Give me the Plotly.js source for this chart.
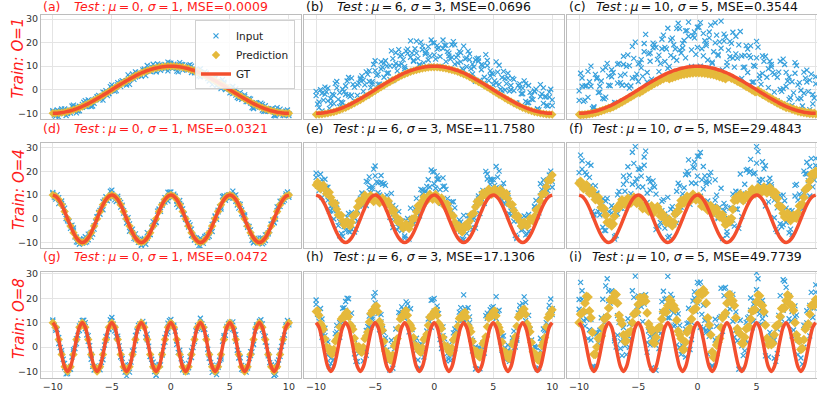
<!DOCTYPE html>
<html><head><meta charset="utf-8">
<script src="https://cdn.plot.ly/plotly-3.0.1.min.js"></script>
<style>html,body{margin:0;padding:0;background:#fff;} #chart{width:817px;height:396px;}</style>
</head><body><div id="chart"></div>
<script>
// shared x positions of the sampled points
const xA = [-10,-9.75,-9.5,-9.25,-9,-8.75,-8.5,-8.25,-8,-7.75,-7.5,-7.25,-7,-6.75,-6.5,-6.25,-6,-5.75,-5.5,-5.25,-5,-4.75,-4.5,-4.25,-4,-3.75,-3.5,-3.25,-3,-2.75,-2.5,-2.25,-2,-1.75,-1.5,-1.25,-1,-0.75,-0.5,-0.25,0,0.25,0.5,0.75,1,1.25,1.5,1.75,2,2.25,2.5,2.75,3,3.25,3.5,3.75,4,4.25,4.5,4.75,5,5.25,5.5,5.75,6,6.25,6.5,6.75,7,7.25,7.5,7.75,8,8.25,8.5,8.75,9,9.25,9.5,9.75,10];
const xB = [-9.875,-9.625,-9.375,-9.125,-8.875,-8.625,-8.375,-8.125,-7.875,-7.625,-7.375,-7.125,-6.875,-6.625,-6.375,-6.125,-5.875,-5.625,-5.375,-5.125,-4.875,-4.625,-4.375,-4.125,-3.875,-3.625,-3.375,-3.125,-2.875,-2.625,-2.375,-2.125,-1.875,-1.625,-1.375,-1.125,-0.875,-0.625,-0.375,-0.125,0.125,0.375,0.625,0.875,1.125,1.375,1.625,1.875,2.125,2.375,2.625,2.875,3.125,3.375,3.625,3.875,4.125,4.375,4.625,4.875,5.125,5.375,5.625,5.875,6.125,6.375,6.625,6.875,7.125,7.375,7.625,7.875,8.125,8.375,8.625,8.875,9.125,9.375,9.625,9.875];

// ground truth curves (on xA)
const gtO1 = [-10,-10,-9.9,-9.7,-9.5,-9.2,-8.9,-8.5,-8.1,-7.6,-7.1,-6.5,-5.9,-5.2,-4.5,-3.8,-3.1,-2.3,-1.6,-0.8,0,0.8,1.6,2.3,3.1,3.8,4.5,5.2,5.9,6.5,7.1,7.6,8.1,8.5,8.9,9.2,9.5,9.7,9.9,10,10,10,9.9,9.7,9.5,9.2,8.9,8.5,8.1,7.6,7.1,6.5,5.9,5.2,4.5,3.8,3.1,2.3,1.6,0.8,0,-0.8,-1.6,-2.3,-3.1,-3.8,-4.5,-5.2,-5.9,-6.5,-7.1,-7.6,-8.1,-8.5,-8.9,-9.2,-9.5,-9.7,-9.9,-10,-10];
const gtO4 = [10,9.5,8.1,5.9,3.1,0,-3.1,-5.9,-8.1,-9.5,-10,-9.5,-8.1,-5.9,-3.1,0,3.1,5.9,8.1,9.5,10,9.5,8.1,5.9,3.1,0,-3.1,-5.9,-8.1,-9.5,-10,-9.5,-8.1,-5.9,-3.1,0,3.1,5.9,8.1,9.5,10,9.5,8.1,5.9,3.1,0,-3.1,-5.9,-8.1,-9.5,-10,-9.5,-8.1,-5.9,-3.1,0,3.1,5.9,8.1,9.5,10,9.5,8.1,5.9,3.1,0,-3.1,-5.9,-8.1,-9.5,-10,-9.5,-8.1,-5.9,-3.1,0,3.1,5.9,8.1,9.5,10];
const gtO8 = [10,8.1,3.1,-3.1,-8.1,-10,-8.1,-3.1,3.1,8.1,10,8.1,3.1,-3.1,-8.1,-10,-8.1,-3.1,3.1,8.1,10,8.1,3.1,-3.1,-8.1,-10,-8.1,-3.1,3.1,8.1,10,8.1,3.1,-3.1,-8.1,-10,-8.1,-3.1,3.1,8.1,10,8.1,3.1,-3.1,-8.1,-10,-8.1,-3.1,3.1,8.1,10,8.1,3.1,-3.1,-8.1,-10,-8.1,-3.1,3.1,8.1,10,8.1,3.1,-3.1,-8.1,-10,-8.1,-3.1,3.1,8.1,10,8.1,3.1,-3.1,-8.1,-10,-8.1,-3.1,3.1,8.1,10];

// (a)
const inA_a = [-9.5,-11.2,-9.1,-8.1,-9.9,-10.1,-8.7,-7.4,-9.8,-7.0,-7.4,-4.6,-6.7,-5.1,-5.8,-2.9,-2.7,-4.4,-0.4,-1.4,0.7,0.7,3.0,1.3,3.4,2.0,5.4,5.2,7.6,6.0,6.0,8.2,10.3,7.8,9.1,7.7,10.5,9.5,10.7,8.0,11.3,10.4,9.3,11.5,8.3,9.3,8.5,10.0,7.2,8.3,5.5,6.8,7.0,5.1,2.2,4.6,3.6,1.3,3.2,0.5,0.2,-1.6,0.4,-3.7,-2.5,-2.9,-5.0,-4.0,-7.8,-6.1,-7.3,-6.2,-9.2,-8.5,-8.2,-10.8,-7.6,-10.4,-9.6,-9.0,-10.9];
const inB_a = [-10.7,-8.6,-10.0,-8.7,-10.9,-8.7,-6.9,-8.9,-9.0,-7.2,-5.3,-7.1,-5.0,-6.9,-3.9,-2.4,-3.1,-1.2,-2.5,1.3,0.3,-0.4,2.5,3.9,2.7,6.3,4.6,4.4,6.9,6.8,8.4,6.0,8.7,9.6,8.5,11.0,8.2,10.0,9.4,11.3,9.0,10.5,7.6,10.7,9.7,8.4,10.6,8.1,8.7,5.9,6.9,7.6,4.7,4.5,5.2,1.7,3.2,4.3,0.1,0.6,-1.0,-0.3,-3.3,-1.2,-3.5,-5.0,-3.7,-7.6,-5.5,-7.1,-5.7,-9.1,-7.9,-9.2,-8.0,-11.1,-9.0,-9.5,-10.9,-8.6];
const inC_a = [-8.9,-10.4,-11.6,-9.1,-8.1,-9.4,-9.9,-6.5,-7.8,-8.9,-6.2,-7.1,-4.3,-7.1,-4.3,-3.1,-4.3,-1.0,-1.9,-1.7,2.1,-0.7,2.0,3.3,2.4,3.9,2.3,6.7,5.4,7.3,5.7,8.8,8.0,7.7,10.8,7.6,10.0,9.7,8.8,11.7,9.6,10.9,7.9,10.3,10.6,8.9,10.3,7.3,8.3,7.0,8.9,5.6,6.2,3.7,5.2,5.0,2.9,0.5,2.5,1.2,-1.3,1.4,-2.3,-1.8,-4.1,-2.2,-4.4,-5.6,-8.0,-5.5,-6.5,-8.7,-6.8,-9.0,-8.1,-10.9,-9.3,-8.2,-10.8,-9.7,-10.1];
const pred_a = [-10,-10,-9.9,-9.7,-9.5,-9.2,-8.9,-8.5,-8.1,-7.6,-7.1,-6.5,-5.9,-5.2,-4.5,-3.8,-3.1,-2.3,-1.6,-0.8,0,0.8,1.6,2.3,3.1,3.8,4.5,5.2,5.9,6.5,7.1,7.6,8.1,8.5,8.9,9.2,9.5,9.7,9.9,10,10,10,9.9,9.7,9.5,9.2,8.9,8.5,8.1,7.6,7.1,6.5,5.9,5.2,4.5,3.8,3.1,2.3,1.6,0.8,0,-0.8,-1.6,-2.3,-3.1,-3.8,-4.5,-5.2,-5.9,-6.5,-7.1,-7.6,-8.1,-8.5,-8.9,-9.2,-9.5,-9.7,-9.9,-10,-10];
// (b)
const inA_b = [-2.5,-7.6,-1.5,1.1,-4.7,-5.9,-2.3,0.8,-7.2,0.2,-2.0,5.2,-2.3,1.1,-2.4,4.9,4.1,-2.6,8.0,3.4,8.1,6.5,11.8,5.3,10.0,4.4,13.2,11.2,17.0,11.0,9.8,15.4,20.7,12.4,15.5,10.7,18.5,15.1,18.3,10.0,19.9,17.2,14.1,21.1,11.9,15.5,13.7,19.0,11.4,15.7,8.3,13.4,15.2,10.9,3.6,12.2,10.6,5.3,12.4,5.9,6.6,2.8,10.4,-0.5,4.7,4.9,0.0,4.4,-5.6,0.7,-1.7,2.6,-5.4,-2.5,-0.8,-8.0,2.2,-5.8,-3.0,-1.0,-6.7];
const inB_b = [-6.1,0.0,-4.4,-0.9,-7.9,-1.9,2.7,-4.1,-5.2,-0.8,3.7,-2.9,2.3,-4.9,2.8,5.9,2.1,6.5,0.9,10.7,6.1,2.4,9.5,12.3,7.1,16.5,10.0,8.0,14.3,12.8,16.4,8.2,15.5,17.4,13.3,20.2,11.4,16.4,14.4,19.9,13.0,17.7,9.2,18.9,16.3,13.0,20.4,13.7,16.3,8.9,13.1,16.4,8.9,9.7,13.2,4.1,10.2,14.9,3.9,7.0,3.8,7.5,0.2,7.8,2.6,-0.6,4.8,-5.6,1.9,-1.7,3.8,-5.5,-1.1,-4.2,0.3,-8.5,-1.8,-2.9,-6.9,0.2];
const inC_b = [-0.7,-5.2,-9.0,-1.9,0.7,-3.8,-5.9,3.5,-1.2,-5.5,1.6,-2.3,4.9,-4.9,2.1,4.3,-0.7,7.6,3.5,2.5,12.3,2.3,8.8,11.3,7.0,10.1,3.9,15.7,10.4,14.9,8.9,17.2,13.8,12.1,20.6,10.4,17.0,15.7,12.6,21.1,14.8,18.7,9.9,17.5,18.8,14.3,19.1,10.9,14.7,11.8,18.5,9.8,12.8,6.7,12.6,13.4,8.5,2.9,10.3,8.0,2.1,11.8,2.3,5.2,-0.1,7.0,1.8,-0.4,-6.2,2.5,0.7,-4.9,1.8,-4.0,-0.5,-8.3,-2.9,0.8,-6.6,-3.1,-4.3];
const pred_b = [-10.5,-10.5,-10.4,-10.2,-10.0,-9.7,-9.4,-9.0,-8.6,-8.1,-7.6,-7.0,-6.4,-5.7,-5.0,-4.3,-3.6,-2.8,-2.1,-1.3,-0.5,0.3,1.1,1.8,2.6,3.3,4.0,4.7,5.4,6.0,6.6,7.1,7.6,8.0,8.4,8.7,9.0,9.2,9.4,9.5,9.5,9.5,9.4,9.2,9.0,8.7,8.4,8.0,7.6,7.1,6.6,6.0,5.4,4.7,4.0,3.3,2.6,1.8,1.1,0.3,-0.5,-1.3,-2.1,-2.8,-3.6,-4.3,-5.0,-5.7,-6.4,-7.0,-7.6,-8.1,-8.6,-9.0,-9.4,-9.7,-10.0,-10.2,-10.4,-10.5,-10.5];
// (c)
const inA_c = [-4.5,5.0,1.6,-3.2,10.0,-7.2,4.6,1.5,-3.6,9.4,1.9,5.5,-5.4,10.8,3.0,10.7,9.9,0.7,18.4,5.2,11.0,9.3,19.6,7.3,15.6,17.8,3.0,14.7,21.4,18.0,9.1,21.1,13.6,26.0,16.9,19.7,13.5,28.7,16.9,22.0,26.5,10.0,23.9,18.7,24.5,11.7,19.9,15.0,29.1,20.6,11.6,14.0,24.4,15.2,19.0,4.8,14.6,7.3,18.6,10.3,13.5,6.2,14.4,-2.8,8.9,10.7,-1.0,5.3,0.1,13.0,1.4,5.4,-6.6,7.0,2.1,-3.7,-1.5,8.3,4.1,-6.0,2.5];
const inB_c = [7.0,-4.9,1.7,3.4,-7.9,6.5,-1.2,3.7,-3.9,11.2,1.7,7.3,-5.6,11.2,1.9,6.6,14.8,1.6,13.3,6.6,11.4,5.7,23.5,15.2,4.5,19.2,12.9,11.1,23.2,17.3,9.9,21.9,17.3,28.2,15.6,20.9,25.1,8.8,22.9,15.0,26.5,17.4,20.8,12.6,27.4,16.1,23.2,20.3,8.4,22.4,16.8,19.7,9.6,13.4,24.7,9.5,18.7,14.5,3.2,9.9,18.1,2.3,12.1,5.3,12.1,7.4,-4.9,7.5,-0.7,10.7,3.7,-3.4,-1.3,10.3,3.0,-6.9,4.9,-0.8,6.6,-3.5];
const inC_c = [-0.5,1.5,-4.4,7.8,1.5,-7.7,5.1,-1.0,8.4,-3.1,5.9,8.5,-6.4,2.8,6.0,14.2,1.9,10.2,4.9,20.2,3.5,12.8,16.1,3.3,12.1,19.8,18.0,7.7,17.4,12.0,26.1,14.6,19.1,12.5,25.9,17.7,25.0,22.7,9.9,24.5,18.0,28.5,14.4,19.7,22.0,11.2,28.4,14.5,17.6,23.6,10.1,20.5,13.4,22.7,3.5,14.3,9.6,17.3,13.6,3.3,20.5,4.7,6.9,14.2,0.9,9.7,6.5,-4.7,12.1,0.5,7.4,-4.1,3.4,11.5,-3.9,-0.2,7.5,3.3,-8.4,-2.0,5.5];
const pred_c = [-10.5,-10.5,-10.4,-10.2,-10.0,-9.7,-9.4,-9.0,-8.6,-8.1,-7.6,-7.3,-6.7,-6.0,-5.3,-4.6,-3.9,-3.1,-2.4,-1.6,-0.8,-0.2,0.6,1.3,2.1,2.8,3.5,4.2,4.9,5.5,6.1,6.1,6.6,7.0,7.4,7.7,8.0,8.2,8.4,8.5,8.5,8.5,8.4,8.2,8.0,7.7,7.4,7.0,6.6,6.1,5.6,5.5,4.9,4.2,3.5,2.8,2.1,1.3,0.6,-0.2,-1.0,-1.4,-2.2,-2.9,-3.7,-4.4,-5.1,-5.8,-6.5,-7.1,-7.7,-8.0,-8.5,-8.9,-9.3,-9.6,-9.9,-10.1,-10.3,-10.4,-10.4];
const predB_c = [-10.8,-10.7,-10.6,-10.4,-10.2,-9.9,-9.5,-9.1,-8.7,-8.2,-8.0,-7.4,-6.8,-6.1,-5.4,-4.7,-3.9,-3.2,-2.4,-1.6,-1.4,-0.6,0.2,0.9,1.7,2.4,3.1,3.8,4.4,5.0,4.4,4.9,5.3,5.7,6.1,6.4,6.6,6.8,6.9,7.0,7.0,6.9,6.8,6.6,6.4,6.1,5.7,5.3,4.9,4.4,5.3,4.7,4.1,3.4,2.7,2.0,1.2,0.5,-0.3,-1.1,-0.1,-0.9,-1.7,-2.4,-3.2,-3.9,-4.6,-5.3,-5.9,-6.5,-7.1,-7.6,-8.0,-8.4,-8.8,-9.1,-9.3,-9.5,-9.6,-9.7];
// (d)
const inA_d = [10.5,8.3,8.9,7.5,2.7,-0.9,-2.9,-4.8,-9.8,-8.9,-10.3,-7.6,-8.9,-5.8,-4.4,0.9,3.5,3.8,9.3,8.9,10.7,9.4,9.5,4.9,3.4,-1.8,-2.2,-5.9,-6.4,-10.0,-11.1,-8.9,-5.9,-6.6,-2.9,-1.5,4.1,5.7,8.9,7.5,11.3,9.9,7.5,7.7,1.9,0.1,-3.5,-4.4,-9.0,-8.8,-11.6,-9.2,-7.0,-6.0,-5.4,0.8,3.6,4.9,9.7,9.2,10.2,8.7,10.1,4.5,3.7,0.9,-3.6,-4.7,-10.0,-9.1,-10.2,-8.1,-9.2,-5.9,-2.4,-1.6,5.0,5.2,8.4,10.5,9.1];
const inB_d = [9.2,10.2,6.9,5.4,0.1,-1.2,-2.7,-7.7,-10.0,-9.7,-8.4,-9.8,-6.5,-6.5,-1.3,2.7,4.1,7.9,7.6,11.6,9.8,7.3,7.6,5.7,0.8,0.5,-4.8,-8.3,-8.2,-9.9,-8.9,-10.8,-6.7,-3.6,-2.2,3.2,3.1,7.3,8.4,11.2,8.9,9.5,4.9,5.6,1.9,-2.3,-2.6,-7.3,-8.1,-11.4,-9.8,-7.5,-8.0,-4.9,-0.6,-0.2,5.0,9.4,7.8,10.1,9.3,9.8,5.8,6.0,1.6,-2.4,-3.3,-9.1,-8.2,-10.2,-8.2,-10.1,-6.7,-5.0,-0.5,-0.1,5.1,7.4,7.9,11.3];
const inC_d = [11.1,9.1,6.4,6.5,4.5,-0.2,-4.1,-3.9,-7.8,-10.8,-9.1,-10.1,-6.5,-7.8,-2.9,0.7,1.9,7.2,7.8,8.6,12.1,8.0,8.5,6.9,2.4,0.1,-5.3,-4.4,-8.6,-8.7,-11.4,-8.3,-8.2,-6.7,-1.2,-1.6,3.6,5.9,7.0,11.2,9.6,10.4,6.1,6.5,4.2,-0.3,-1.7,-7.1,-7.9,-10.1,-8.2,-10.4,-7.8,-7.4,-2.4,1.2,2.9,4.1,9.0,9.9,8.7,11.7,7.4,6.4,2.1,1.6,-3.0,-6.3,-10.2,-8.5,-9.4,-10.6,-6.8,-6.4,-2.3,-1.7,3.3,7.4,7.2,9.8,9.9];
const pred_d = [10,9.5,8.1,5.9,3.1,0,-3.1,-5.9,-8.1,-9.5,-10,-9.5,-8.1,-5.9,-3.1,0,3.1,5.9,8.1,9.5,10,9.5,8.1,5.9,3.1,0,-3.1,-5.9,-8.1,-9.5,-10,-9.5,-8.1,-5.9,-3.1,0,3.1,5.9,8.1,9.5,10,9.5,8.1,5.9,3.1,0,-3.1,-5.9,-8.1,-9.5,-10,-9.5,-8.1,-5.9,-3.1,0,3.1,5.9,8.1,9.5,10,9.5,8.1,5.9,3.1,0,-3.1,-5.9,-8.1,-9.5,-10,-9.5,-8.1,-5.9,-3.1,0,3.1,5.9,8.1,9.5,10];
// (e)
const inA_e = [17.5,11.9,16.5,16.7,7.9,3.3,3.5,3.4,-7.2,-1.7,-4.9,2.2,-4.5,0.4,-1.0,8.7,10.3,5.6,17.7,13.7,18.1,15.2,18.3,8.9,10.0,0.6,5.6,0.1,3.0,-5.0,-7.3,-1.7,4.5,-2.0,3.5,1.5,12.1,11.3,16.5,9.5,19.9,16.7,12.3,17.3,5.5,6.3,1.7,4.6,-4.8,-1.4,-8.8,-2.6,1.2,-0.2,-4.0,8.4,10.6,8.9,18.9,14.6,16.6,13.1,20.1,7.7,10.9,8.7,1.4,3.7,-7.8,-2.3,-4.6,0.7,-5.4,0.1,5.0,1.2,14.8,9.8,15.0,18.5,13.3];
const inB_e = [13.8,18.8,12.5,13.2,3.1,5.6,6.9,-2.9,-6.2,-3.3,0.6,-5.6,0.7,-4.5,5.3,10.9,9.3,15.5,11.0,21.0,15.6,10.1,14.6,14.1,5.2,10.7,0.6,-4.7,-0.8,-3.9,-0.9,-8.6,0.1,4.2,2.6,12.4,6.3,13.7,13.4,19.8,12.9,16.7,6.5,13.8,8.5,2.3,7.2,-1.7,-0.5,-8.4,-3.6,1.3,-3.8,0.3,7.4,2.2,12.0,20.0,11.6,16.5,14.1,17.6,9.2,15.0,7.6,2.0,5.1,-7.1,-0.8,-4.8,1.2,-6.5,0.1,0.0,7.7,2.5,12.3,14.0,11.9,20.1];
const inC_e = [19.3,14.3,9.0,13.7,13.3,5.4,-0.1,6.1,-1.2,-7.4,-1.3,-5.3,2.7,-5.6,3.5,8.1,5.5,15.8,13.2,12.8,22.3,11.0,15.3,14.9,7.0,6.3,-3.7,4.6,-3.6,-1.1,-8.2,0.1,-2.4,-2.3,8.6,1.2,10.6,11.9,10.8,20.6,14.8,18.2,8.1,13.7,12.4,5.1,7.1,-3.5,-1.5,-5.3,1.4,-6.2,-1.2,-4.4,5.0,9.6,8.5,6.5,16.8,16.7,12.1,22.1,12.0,13.4,6.1,10.8,3.2,-1.1,-8.4,-0.5,-2.2,-6.8,1.8,-1.4,5.3,0.9,9.7,16.4,11.4,16.4,15.7];
const pred_e = [14.3,14.0,13.5,12.5,11.0,9.0,6.5,4.0,1.5,-1.0,-2.0,-2.5,-1.5,1.5,5.0,7.5,8.5,9.0,8.8,8.5,8.3,8.0,7.8,7.5,7.0,5.5,3.5,1.0,-1.0,-2.5,-3.2,-3.4,-2.5,0.0,3.0,5.5,7.5,8.5,9.0,9.3,9.3,8.8,8.0,7.2,6.0,4.0,1.5,-1.5,-3.5,-4.8,-4.2,-3.4,-1.0,2.0,5.0,7.2,9.0,10.5,11.2,11.5,11.5,11.5,11.3,11.0,10.5,8.5,6.0,3.5,1.0,-1.0,-2.7,-2.5,-1.5,-0.5,1.0,4.0,7.5,10.5,13.5,16.5,18.5];
const predB_e = [15.4,12.6,14.2,10.6,11.2,6.6,6.5,1.6,1.5,-2.7,-1.1,-3.2,1.2,2.1,7.5,6.8,10.0,7.7,9.9,7.2,9.4,6.7,8.9,6.1,7.5,3.3,3.5,-1.2,-0.6,-4.1,-2.1,-4.2,0.0,0.3,5.5,5.3,9.2,7.6,10.4,8.1,10.3,7.2,8.8,5.4,6.2,1.6,1.2,-3.7,-3.0,-5.7,-2.6,-3.4,1.7,2.3,7.3,6.9,11.0,9.7,12.6,10.3,12.7,10.2,12.4,9.6,10.7,6.1,6.0,1.1,1.2,-3.1,-1.4,-3.2,0.2,-1.0,3.7,4.6,10.2,10.8,16.2,16.3];
// (f)
const inA_f = [15.5,24.5,19.6,12.4,22.6,2.0,10.4,4.1,-3.6,7.5,-1.0,2.5,-7.6,10.1,4.4,14.5,16.1,8.9,28.1,15.5,21.0,18.0,26.1,10.9,15.6,14.0,-4.6,3.6,7.4,2.0,-8.0,4.0,-2.6,11.6,4.9,10.5,7.1,24.9,15.1,21.5,26.5,9.5,22.1,14.9,18.1,2.5,7.9,0.6,12.9,3.5,-5.5,-2.0,10.4,4.1,11.4,1.0,14.6,10.9,25.1,19.0,23.5,16.5,24.1,5.4,15.1,14.5,0.4,4.6,-2.1,10.0,-1.5,3.5,-6.6,9.6,7.9,5.5,11.1,23.9,22.1,13.5,22.5];
const inB_f = [26.9,13.9,18.6,17.5,3.1,13.9,3.0,4.9,-4.9,8.6,-1.4,4.6,-7.1,11.5,4.4,11.6,22.0,10.6,23.4,16.9,20.9,13.4,28.6,17.0,2.6,13.4,3.5,-1.6,8.1,0.6,-7.4,5.1,1.9,15.0,4.9,13.1,20.0,6.1,21.9,14.9,26.4,16.4,18.1,7.5,19.6,5.4,10.0,4.9,-8.4,5.1,0.1,4.6,-3.1,4.0,18.9,7.6,20.5,19.6,10.9,19.4,28.4,12.4,21.1,12.5,17.1,9.9,-4.5,5.9,-3.4,7.6,1.1,-4.4,-0.1,14.5,10.4,4.1,19.0,16.1,25.4,16.4];
const inC_f = [19.5,21.0,13.6,23.4,14.1,1.5,10.9,1.6,8.4,-5.0,3.0,5.5,-8.6,2.1,7.4,18.0,8.1,18.4,14.6,30.5,13.5,21.5,22.6,6.9,12.1,16.0,10.4,-3.4,3.4,-4.0,9.0,-2.5,2.9,-1.9,13.9,8.5,18.6,18.9,8.1,24.0,18.0,28.0,12.6,15.9,15.6,2.0,16.4,0.1,1.4,6.5,-7.0,4.5,-0.6,11.6,-4.1,10.5,9.6,20.9,20.1,12.0,30.5,15.0,16.6,22.4,7.1,13.5,7.9,-5.4,9.9,-2.5,4.5,-6.0,3.4,14.1,1.9,9.0,20.1,18.9,9.6,17.5,25.5];
const pred_f = [15,14.2,13.6,12.5,11.5,10,8.5,7.2,4.5,1.5,-2,-3,1,5,6.5,7,7.5,7.5,8,7.8,7.5,6,5,4.5,4.3,4,4,3.7,1,0,-1,-2,-1.5,3,5.5,7.5,8,8.3,8.8,9.3,9,7.5,5.5,5,4.5,4,3.7,2.5,1.5,-0.5,-2,-1.3,4,9,9.3,9,8.8,9,11,11.5,11.8,12,12.2,12.2,12,12,11,8.6,5,2.3,1.5,0.8,0,0.5,2.5,5.8,9,12.9,16,19,20];
const predB_f = [15.8,12.7,14.3,10.8,12.0,8.1,9.1,4.7,4.2,-1.5,-1.3,-2.2,4.2,4.6,8.0,6.1,8.7,6.6,9.1,6.5,8.0,4.3,6.0,3.2,5.4,2.8,5.1,1.2,1.7,-1.7,-0.3,-3.0,2.0,3.1,7.7,6.6,9.4,7.4,10.3,8.0,9.5,5.3,6.5,3.6,5.5,2.7,4.3,0.8,1.7,-2.5,-0.5,0.2,7.7,8.0,10.4,7.7,10.1,8.8,12.5,10.5,13.1,10.9,13.4,10.9,13.2,10.3,11.0,5.6,4.9,0.7,2.4,-0.8,1.5,0.3,5.4,6.2,12.2,13.3,18.7,18.3];
// (g)
const inA_g = [10.5,6.9,3.9,-1.5,-8.5,-10.9,-7.9,-2.0,1.4,8.7,9.7,10.0,2.3,-3.0,-9.4,-9.1,-7.7,-5.2,4.3,7.5,10.7,8.0,4.5,-4.1,-7.8,-11.8,-7.2,-3.1,4.8,7.6,8.9,8.7,5.3,-3.8,-7.9,-11.5,-7.1,-3.3,3.9,6.1,11.3,8.5,2.5,-1.3,-9.3,-9.9,-8.5,-1.6,2.2,8.8,8.4,8.4,4.2,-3.2,-10.4,-9.2,-7.6,-4.1,4.7,7.8,10.2,7.3,5.1,-4.5,-7.5,-9.1,-8.6,-1.9,1.2,8.5,9.8,9.5,2.0,-3.1,-7.4,-11.6,-6.2,-3.8,3.4,9.1,9.1];
const inB_g = [8.8,7.2,-0.2,-5.0,-11.0,-9.1,-4.1,-0.6,4.8,9.7,11.0,5.0,0.6,-7.9,-9.2,-8.4,-6.3,0.8,4.6,11.2,9.4,4.3,0.5,-4.7,-10.3,-7.4,-6.2,-1.2,6.6,9.5,10.5,4.0,0.4,-5.0,-10.1,-7.9,-7.3,0.2,5.4,10.8,8.5,6.5,-2.2,-4.8,-9.2,-10.2,-4.0,-0.2,6.7,8.0,9.6,7.3,-0.9,-6.3,-8.5,-11.3,-5.4,2.3,4.8,9.7,8.9,6.8,-1.3,-4.4,-9.5,-10.3,-4.7,-2.0,6.6,9.2,11.2,4.7,0.4,-6.4,-8.4,-11.2,-5.3,0.3,4.9,10.9];
const inC_g = [11.1,7.7,1.4,-2.5,-6.7,-10.2,-9.1,-1.1,3.4,6.8,10.9,7.5,4.7,-5.0,-7.9,-9.3,-9.3,-1.8,2.8,7.2,12.1,6.6,3.5,-2.1,-8.8,-9.9,-10.3,-1.6,2.6,8.9,8.6,9.3,3.0,-3.9,-6.2,-11.6,-7.6,-3.1,2.0,9.8,9.6,9.0,1.1,-2.5,-7.0,-10.3,-6.7,-4.3,3.3,7.5,11.8,7.2,3.4,-4.6,-7.4,-8.8,-8.3,-4.9,4.0,8.5,8.7,10.3,2.4,-2.6,-9.1,-8.4,-8.0,-3.5,1.0,9.1,10.6,7.0,4.4,-3.6,-7.3,-11.7,-7.9,-1.6,2.2,8.4,9.9];
const pred_g = [10,8.1,3.1,-3.1,-8.1,-10,-8.1,-3.1,3.1,8.1,10,8.1,3.1,-3.1,-8.1,-10,-8.1,-3.1,3.1,8.1,10,8.1,3.1,-3.1,-8.1,-10,-8.1,-3.1,3.1,8.1,10,8.1,3.1,-3.1,-8.1,-10,-8.1,-3.1,3.1,8.1,10,8.1,3.1,-3.1,-8.1,-10,-8.1,-3.1,3.1,8.1,10,8.1,3.1,-3.1,-8.1,-10,-8.1,-3.1,3.1,8.1,10,8.1,3.1,-3.1,-8.1,-10,-8.1,-3.1,3.1,8.1,10,8.1,3.1,-3.1,-8.1,-10,-8.1,-3.1,3.1,8.1,10];
// (h)
const inA_h = [17.5,10.5,11.5,7.7,-3.3,-6.7,-1.5,6.2,4.0,15.9,15.1,19.8,6.7,3.2,-6.0,-1.3,-0.9,-3.4,12.7,12.3,18.1,13.8,13.3,-0.1,-1.2,-9.4,0.6,2.9,14.2,12.6,12.7,15.9,15.7,0.8,-1.5,-8.5,0.9,2.3,11.5,8.1,19.9,15.3,7.3,8.3,-5.7,-3.7,-3.3,7.4,6.4,16.2,11.2,15.0,12.4,2.6,-9.0,-1.6,-0.6,-0.1,13.9,13.2,16.6,11.7,15.1,-1.3,-0.3,-1.3,-3.6,6.5,3.4,15.3,15.4,18.3,5.8,2.9,0.0,-8.8,3.6,0.8,10.0,17.1,13.3];
const inB_h = [13.4,15.8,5.4,2.8,-8.0,-2.3,5.5,4.2,8.6,16.1,20.0,9.2,7.8,-5.9,-2.6,-0.2,-1.1,8.4,8.0,20.6,15.2,7.1,7.5,3.7,-5.9,2.8,-0.8,2.4,14.0,15.5,18.5,6.2,7.2,2.8,-5.3,1.3,-4.1,6.6,10.4,19.4,12.5,13.7,-0.6,3.4,-2.6,-5.6,5.8,5.4,14.3,11.0,15.8,16.1,3.3,-1.1,-0.5,-8.9,1.6,12.9,8.6,16.1,13.7,14.6,2.1,4.6,-3.5,-5.9,3.7,0.0,14.0,14.6,20.6,8.3,7.2,-1.4,-0.2,-8.6,1.9,6.9,8.9,19.7];
const inC_h = [19.3,12.9,4.0,4.7,2.1,-4.6,-5.1,8.9,10.0,10.2,18.7,12.3,13.9,-2.8,-1.5,-1.9,-5.7,6.8,8.2,11.4,22.3,9.6,10.3,5.9,-4.2,-3.7,-8.7,7.4,7.6,16.5,11.8,17.7,8.8,0.5,3.6,-8.8,-0.6,2.9,5.8,19.2,14.8,16.8,3.1,4.7,1.2,-4.9,2.1,-0.7,9.7,12.3,21.4,11.4,10.0,-1.6,0.0,-0.4,-2.7,-2.5,11.8,15.3,12.1,20.7,7.0,4.4,-5.1,0.8,-1.8,1.7,2.8,17.1,17.8,10.8,13.0,1.4,0.3,-9.1,-1.5,7.4,6.4,15.0,15.7];
const pred_h = [14.6,13.0,8.7,3.4,-0.9,-2.5,-0.9,3.2,8.2,12.3,13.9,12.4,8.5,3.6,-0.3,-1.8,-0.1,4.5,10.3,14.9,16.6,14.5,9.1,2.3,-3.1,-5.2,-3.3,1.6,7.8,12.7,14.6,13.0,8.9,3.9,-0.2,-1.8,-0.2,3.9,8.9,13.0,14.6,13.0,8.9,3.9,-0.2,-1.8,-0.3,3.6,8.5,12.4,13.9,12.2,7.8,2.3,-2.1,-3.8,-2.1,2.5,8.3,12.9,14.6,12.8,8.0,2.1,-2.7,-4.5,-2.6,2.3,8.5,13.4,15.3,13.4,8.2,1.9,-3.3,-5.2,-3.3,1.9,8.2,13.4,15.3];
const predB_h = [15.0,9.7,7.3,0.1,-0.5,-2.9,2.4,4.5,11.5,11.9,14.4,9.3,7.3,0.5,0.2,-2.2,3.4,6.2,13.8,14.6,16.8,10.6,6.9,-1.6,-3.0,-5.5,0.4,3.5,11.5,12.5,15.0,9.8,7.6,0.7,0.2,-2.2,3.1,5.2,12.2,12.6,15.0,9.8,7.6,0.7,0.2,-2.3,2.9,4.9,11.7,12.0,14.3,8.8,6.3,-1.1,-1.8,-4.2,1.4,4.2,11.8,12.6,14.9,9.2,6.3,-1.5,-2.4,-4.8,1.1,4.2,12.2,13.2,15.6,9.6,6.3,-1.9,-3.1,-5.5,0.5,3.9,12.0,13.2];
// (i)
const inA_i = [15.5,23.1,14.6,3.4,11.4,-8.0,5.4,6.9,7.6,25.1,19.0,20.1,3.6,12.9,-0.6,4.5,4.9,-0.1,23.1,14.1,21.0,16.6,21.1,1.9,4.4,4.0,-9.6,6.4,18.6,19.6,12.0,21.6,8.6,14.4,-0.1,0.5,-4.1,15.9,10.1,20.1,26.5,8.1,17.1,5.9,6.9,-7.5,2.9,3.4,24.1,21.1,14.5,15.6,21.6,6.9,6.4,-9.0,3.4,1.9,20.1,17.6,23.5,15.1,19.1,-3.6,3.9,4.5,-4.6,7.4,9.1,27.6,18.5,21.1,4.6,12.4,2.9,-4.5,-0.1,14.9,17.1,12.1,22.5];
const inB_i = [26.5,10.9,11.5,7.1,-8.0,6.0,1.6,12.0,9.9,28.0,18.0,19.4,0.0,10.1,-3.5,0.5,11.6,3.5,20.4,16.5,20.5,10.4,21.5,6.6,-8.5,5.5,2.1,5.5,22.9,20.0,12.0,19.9,9.0,13.6,-3.0,2.0,9.6,-1.0,18.9,14.5,26.0,13.4,11.0,-2.9,8.5,-2.5,8.6,12.0,6.4,24.5,19.5,19.4,4.0,2.6,11.0,-3.5,10.1,12.5,7.9,19.0,28.0,9.4,14.0,2.1,6.0,2.0,-5.9,13.0,11.4,27.0,20.5,10.4,7.0,13.1,2.5,-7.0,8.6,9.0,22.4,16.0];
const inC_i = [19.5,19.6,8.6,14.4,2.9,-8.5,5.9,4.4,19.6,12.6,23.0,23.1,2.6,4.9,2.4,8.0,-3.1,9.4,9.6,29.1,13.5,20.1,17.6,-2.1,0.9,6.0,5.4,-0.6,14.6,13.6,29.0,15.1,14.1,0.9,8.9,-1.5,7.4,9.9,3.1,22.6,18.0,26.6,7.6,6.9,4.4,-8.0,11.4,2.9,12.6,24.1,13.0,22.1,10.6,14.4,-9.1,0.5,-1.6,11.9,15.1,10.6,30.5,13.6,11.6,13.4,-4.1,3.5,2.9,-2.6,21.1,15.1,24.5,11.6,14.6,16.9,-3.1,-1.0,8.9,9.9,4.6,16.1,25.5];
const pred_i = [10,14,18,20.5,12,-3,0,4,8,12,16,19.5,22,18,11,5,2.5,6,10,14,17.5,20,20.5,14,8,2,4,8,11.5,14.5,17,19,17,11,5,-1,2,7,11.5,15.5,19,22,23.5,18,9,-2,-3.5,2,8,13,18,21.5,19,12,6,1.6,4,8,11.5,15,18.5,21,17,9,1,1,5,9,12.5,16,19,20.7,17,10,3,-1,3,8.5,13.5,17.5,19.5];
const predB_i = [13.5,14.5,20.8,14.8,6.0,-3.0,3.5,4.5,11.5,12.5,19.3,19.3,21.5,13.0,9.5,2.3,5.8,6.5,13.5,14.3,20.3,18.8,18.8,9.5,6.5,1.5,7.5,8.3,14.5,14.3,19.5,16.5,15.5,6.5,3.5,-1.0,6.0,7.8,15.0,15.8,22.0,21.3,22.3,12.0,5.0,-4.3,0.8,3.5,12.0,14.0,21.3,18.8,17.0,7.5,5.3,1.3,7.5,8.3,14.8,15.3,21.3,17.5,14.5,3.5,2.5,1.5,8.5,9.3,15.8,16.0,21.4,17.4,15.0,5.0,2.5,-0.5,7.3,9.5,17.0,17.0];

// labels
const panelLetters = ['(a)','(b)','(c)','(d)','(e)','(f)','(g)','(h)','(i)'];
const testMu = [0, 6, 10];
const testSigma = [1, 3, 5];
const mseLabels = ['0.0009','0.0696','0.3544','0.0321','11.7580','29.4843','0.0472','17.1306','49.7739'];
const trainOrders = [1, 4, 8];
const seriesNames = ['Input', 'Prediction', 'GT'];
const xTickVals = [-10, -5, 0, 5, 10];
const yTickVals = [-10, 0, 10, 20, 30];

const inputsA = [inA_a, inA_b, inA_c, inA_d, inA_e, inA_f, inA_g, inA_h, inA_i];
const inputsB = [inB_a, inB_b, inB_c, inB_d, inB_e, inB_f, inB_g, inB_h, inB_i];
const inputsC = [inC_a, inC_b, inC_c, inC_d, inC_e, inC_f, inC_g, inC_h, inC_i];
const predsA = [pred_a, pred_b, pred_c, pred_d, pred_e, pred_f, pred_g, pred_h, pred_i];
const predsB = [null, null, predB_c, null, predB_e, predB_f, null, predB_h, predB_i];
const gtRows = [gtO1, gtO4, gtO8];

// geometry / style
const colDomains = [[0, 0.3347], [0.3393, 0.674], [0.6782, 1]];
const rowDomains = [[0.7135, 1], [0.3573, 0.6466], [0, 0.2928]];
const rowRanges = [[-12.4, 31.7], [-12.5, 31.9], [-12.7, 30.9]];
const colRanges = [[-11, 11], [-11, 11], [-11, 10.11]];
const titleCenters = [0.1674, 0.5067, 0.8454];
const titleYs = [1.0234, 0.686, 0.3347];
const rowLabelYs = [0.883, 0.5207, 0.1653];
const predSizes = [6.5, 6.5, 6.5, 6.5, 7, 7.5, 6.5, 7, 7.5];
const BLUE = '#37a0dc', GOLD = '#e5b93b', RED = '#f34f2e';
const FONT = 'DejaVu Sans, sans-serif';
const TS = '\u2009';

const traces = [];
const layout = {
  width: 817, height: 396,
  margin: {l: 41, r: 0, t: 15, b: 18},
  paper_bgcolor: '#ffffff', plot_bgcolor: '#ffffff',
  font: {family: FONT, color: '#333333', size: 10},
  showlegend: true,
  legend: {x: 0.3273, xanchor: 'right', y: 0.985, yanchor: 'top',
           bgcolor: 'rgba(255,255,255,0.85)', bordercolor: '#d0d0d0', borderwidth: 1,
           font: {family: FONT, size: 10.5, color: '#222222'}, tracegroupgap: 0},
  annotations: []
};

for (let i = 0; i < 9; i++) {
  const row = Math.floor(i / 3), col = i % 3;
  const sfx = i === 0 ? '' : String(i + 1);
  const xa = 'x' + sfx, ya = 'y' + sfx;
  const first = i === 0;
  traces.push({
    type: 'scatter', mode: 'markers', name: seriesNames[0], xaxis: xa, yaxis: ya,
    x: xA.concat(xB, xA), y: inputsA[i].concat(inputsB[i], inputsC[i]),
    marker: {symbol: 'x-thin-open', size: 5, color: BLUE, line: {width: 1.2, color: BLUE}},
    showlegend: first, legendgroup: 'in', hoverinfo: 'skip'
  });
  const px = predsB[i] ? xA.concat(xB) : xA;
  const py = predsB[i] ? predsA[i].concat(predsB[i]) : predsA[i];
  traces.push({
    type: 'scatter', mode: 'markers', name: seriesNames[1], xaxis: xa, yaxis: ya,
    x: px, y: py,
    marker: {symbol: 'diamond', size: predSizes[i], color: GOLD, line: {width: 0}},
    showlegend: first, legendgroup: 'pred', hoverinfo: 'skip'
  });
  traces.push({
    type: 'scatter', mode: 'lines', name: seriesNames[2], xaxis: xa, yaxis: ya,
    x: xA, y: gtRows[row],
    line: {color: RED, width: 3.5, shape: 'spline', smoothing: 1},
    showlegend: first, legendgroup: 'gt', hoverinfo: 'skip'
  });

  layout['xaxis' + sfx] = {
    domain: colDomains[col], range: colRanges[col], anchor: ya,
    tickmode: 'array', tickvals: xTickVals, showticklabels: row === 2,
    ticks: '', tickfont: {size: 9.5, color: '#333333'},
    showgrid: true, gridcolor: '#e4e4e4', gridwidth: 1, zeroline: false,
    showline: true, linecolor: '#bdbdbd', linewidth: 1, mirror: true
  };
  layout['yaxis' + sfx] = {
    domain: rowDomains[row], range: rowRanges[row], anchor: xa,
    tickmode: 'array', tickvals: yTickVals, showticklabels: col === 0,
    ticks: '', tickfont: {size: 9.5, color: '#333333'},
    showgrid: true, gridcolor: '#e4e4e4', gridwidth: 1, zeroline: false,
    showline: true, linecolor: '#bdbdbd', linewidth: 1, mirror: col !== 2
  };

  const tcol = col === 0 ? '#ff1a1a' : '#111111';
  layout.annotations.push({
    xref: 'paper', yref: 'paper', x: colDomains[col][0], xanchor: 'left',
    y: titleYs[row], yanchor: 'middle', showarrow: false,
    text: panelLetters[i], font: {family: FONT, size: 12.5, color: tcol}
  });
  layout.annotations.push({
    xref: 'paper', yref: 'paper', x: titleCenters[col], xanchor: 'center',
    y: titleYs[row], yanchor: 'middle', showarrow: false,
    text: '<i>Test</i>' + TS + ':' + TS + '<i>μ</i>' + TS + '=' + TS + testMu[col] + ', <i>σ</i>' + TS + '=' + TS + testSigma[col] + ', MSE=' + mseLabels[i],
    font: {family: FONT, size: 12.5, color: tcol}
  });
}
for (let r = 0; r < 3; r++) {
  layout.annotations.push({
    xref: 'paper', yref: 'paper', x: -0.0284, xanchor: 'center',
    y: rowLabelYs[r], yanchor: 'middle', showarrow: false, textangle: -90,
    text: '<i>Train: O=' + trainOrders[r] + '</i>',
    font: {family: FONT, size: 15, color: '#ff1a1a'}
  });
}

Plotly.newPlot('chart', traces, layout, {displayModeBar: false, staticPlot: true});
</script>
</body></html>
